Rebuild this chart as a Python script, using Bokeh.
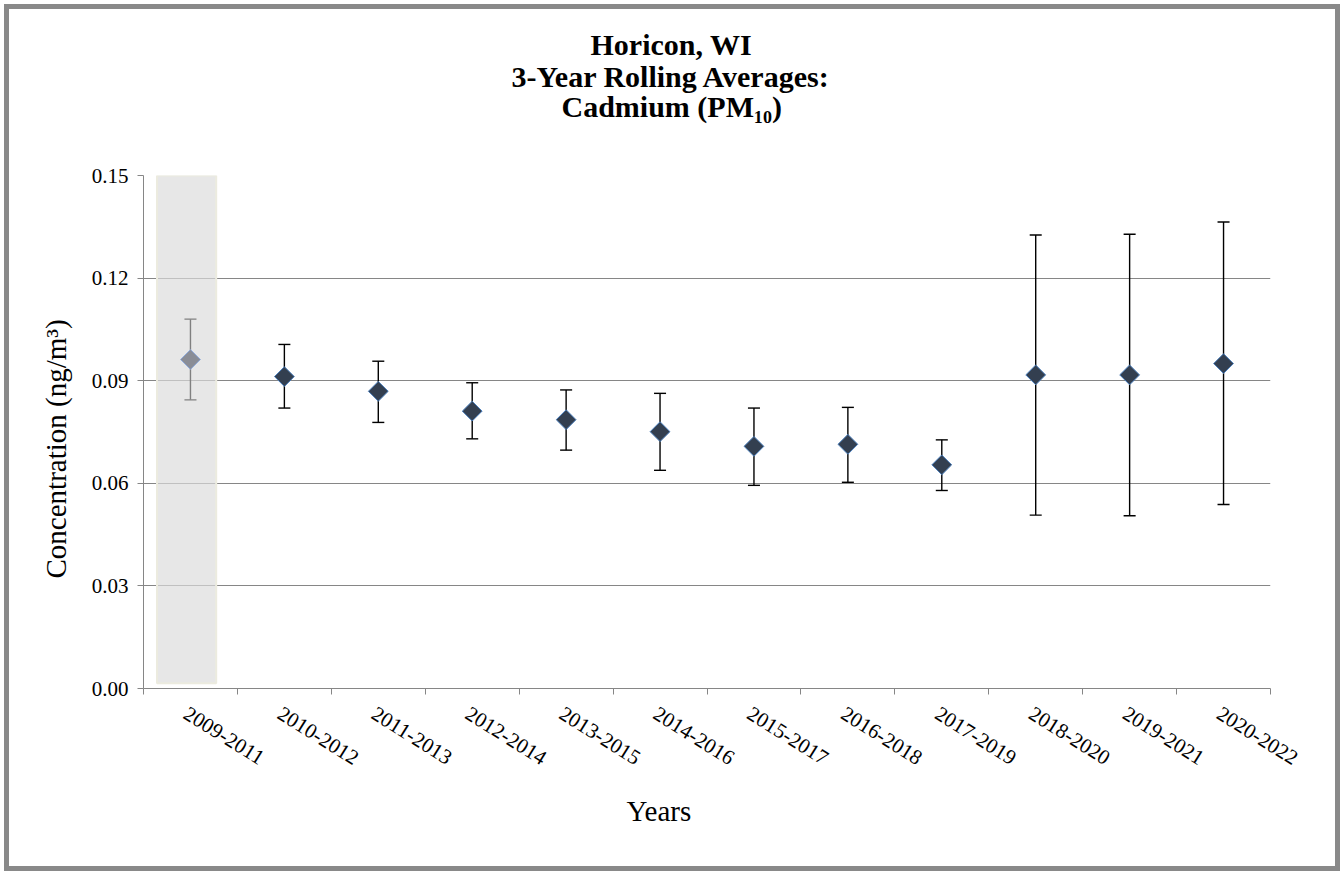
import math
from bokeh.plotting import figure
from bokeh.models import Range1d, FixedTicker, NumeralTickFormatter, Title
from bokeh.embed import file_html
from bokeh.resources import INLINE

# ---- data ----
periods = ["2009-2011", "2010-2012", "2011-2013", "2012-2014", "2013-2015", "2014-2016",
           "2015-2017", "2016-2018", "2017-2019", "2018-2020", "2019-2021", "2020-2022"]
means = [0.0962, 0.0912, 0.0869, 0.0811, 0.0786, 0.0751, 0.0708, 0.0714, 0.0654, 0.0917, 0.0917, 0.0950]
upper = [0.1080, 0.1006, 0.0957, 0.0894, 0.0873, 0.0863, 0.0820, 0.0822, 0.0727, 0.1326, 0.1328, 0.1364]
lower = [0.0844, 0.0820, 0.0778, 0.0730, 0.0697, 0.0638, 0.0594, 0.0603, 0.0579, 0.0507, 0.0505, 0.0538]
highlighted = [0]  # period index shown shaded / in gray
y_ticks = [0.00, 0.03, 0.06, 0.09, 0.12, 0.15]
title_lines = ["Horicon, WI", "3-Year Rolling Averages:", "Cadmium (PM\u2081\u2080)"]
y_label = "Concentration (ng/m\u00b3)"
x_label = "Years"

FONT = "Liberation Serif"
GRID = "#868686"

n = len(periods)
xs = list(range(n))

p = figure(width=1336, height=867, output_backend="svg", toolbar_location=None,
           x_range=Range1d(-0.5, n - 0.5), y_range=Range1d(0, 0.15),
           min_border_left=134, min_border_right=75, min_border_top=166, min_border_bottom=188)
p.styles = {"border": "5px solid #898989", "box-sizing": "border-box",
            "margin-left": "4px", "margin-top": "4px"}
p.outline_line_color = None
p.background_fill_color = "white"
p.border_fill_color = "white"

# axes
label_shift = -0.05  # small nudge so rotated labels start where the reference's do
xa = p.xaxis[0]
xa.ticker = FixedTicker(ticks=[x + label_shift for x in xs], minor_ticks=[i - 0.5 for i in range(n + 1)])
xa.major_label_overrides = {x + label_shift: lab for x, lab in zip(xs, periods)}
xa.major_tick_line_color = None
xa.major_tick_out = 0
xa.major_tick_in = 0
xa.minor_tick_line_color = GRID
xa.minor_tick_out = 6
xa.minor_tick_in = 0
xa.axis_line_color = GRID
xa.major_label_orientation = -math.radians(32)
xa.major_label_text_font = FONT
xa.major_label_text_font_size = "21px"
xa.major_label_text_color = "black"
xa.major_label_standoff = 17

ya = p.yaxis[0]
ya.ticker = FixedTicker(ticks=y_ticks, minor_ticks=[])
ya.formatter = NumeralTickFormatter(format="0.00")
ya.major_tick_out = 6
ya.major_tick_in = 0
ya.major_tick_line_color = GRID
ya.axis_line_color = GRID
ya.major_label_text_font = FONT
ya.major_label_text_font_size = "21px"
ya.major_label_text_color = "black"
ya.major_label_standoff = 9

p.xgrid.visible = False
p.ygrid.ticker = FixedTicker(ticks=y_ticks)
p.ygrid.grid_line_color = GRID
p.ygrid.grid_line_width = 1

# shaded band behind highlighted period
for h in highlighted:
    p.quad(left=h - 0.356, right=h + 0.274, bottom=0.0015, top=0.15,
           fill_color="#dcdcdc", fill_alpha=0.68, line_color="#ecebdf", line_width=2)

normal = [i for i in xs if i not in highlighted]

def sub(lst, idx):
    return [lst[i] for i in idx]

cap = 0.064
for idx, ecol, fcol, lcol in [(highlighted, "#808080", "#8a8d96", "#8eaadb"),
                              (normal, "black", "#333f50", "#4a7ebb")]:
    bx = sub(xs, idx)
    p.segment(x0=bx, x1=bx, y0=sub(lower, idx), y1=sub(upper, idx), line_color=ecol, line_width=1.4)
    p.segment(x0=[b - cap for b in bx], x1=[b + cap for b in bx], y0=sub(upper, idx), y1=sub(upper, idx),
              line_color=ecol, line_width=1.4)
    p.segment(x0=[b - cap for b in bx], x1=[b + cap for b in bx], y0=sub(lower, idx), y1=sub(lower, idx),
              line_color=ecol, line_width=1.4)
    p.scatter(x=bx, y=sub(means, idx), marker="square", size=14, angle=math.pi / 4,
              fill_color=fcol, line_color=lcol, line_width=1)

# spacer between the title block and the plot area
p.add_layout(Title(text=" ", standoff=18, text_font=FONT, text_font_size="30px"), "above")
# title lines: closest line to the plot is added first
title_offsets = [447, 368, 418]
title_standoffs = [4, -10, 0]
for text, off, sd in zip(reversed(title_lines), reversed(title_offsets), reversed(title_standoffs)):
    p.add_layout(Title(text=text, align="left", offset=off, standoff=sd,
                       text_font=FONT, text_font_size="30px", text_font_style="bold",
                       text_color="black"), "above")

p.add_layout(Title(text=y_label, align="left", offset=110, standoff=34,
                   text_font=FONT, text_font_size="29px", text_font_style="normal",
                   text_color="black"), "left")
p.add_layout(Title(text=x_label, align="left", offset=483, standoff=36,
                   text_font=FONT, text_font_size="29px", text_font_style="normal",
                   text_color="black"), "below")

open("out.html", "w").write(file_html(p, INLINE))
